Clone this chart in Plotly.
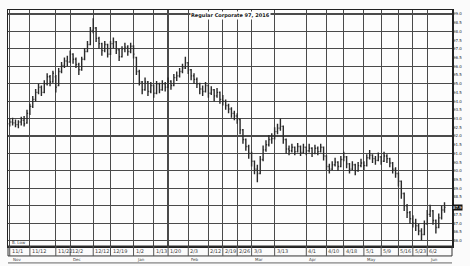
import plotly.graph_objects as go

# ---- data ----
days = list(range(152))
opens = [92.70,92.80,92.75,92.65,92.80,92.90,92.75,93.30,93.70,94.10,94.50,94.80,94.50,95.00,95.40,95.10,95.40,94.90,95.70,96.05,
         96.30,96.25,96.70,96.40,96.10,95.80,96.40,96.85,97.25,98.05,98.20,97.60,97.30,96.90,97.25,96.70,97.30,97.40,96.95,96.55,
         97.00,97.10,96.85,97.15,96.50,95.70,95.10,94.65,95.10,94.55,94.90,94.45,95.00,94.65,95.00,94.80,95.15,94.90,95.35,95.45,
         95.70,95.90,96.20,95.80,95.45,95.25,95.00,94.70,94.55,94.90,94.45,94.65,94.30,94.50,94.10,94.00,93.75,93.55,93.30,93.15,
         92.95,92.35,91.80,91.40,91.00,90.55,90.10,89.85,90.65,91.20,91.50,91.80,91.85,92.25,92.45,92.55,91.80,91.25,91.15,91.35,
         91.10,91.40,91.05,91.35,91.15,91.30,91.00,91.30,91.10,91.35,90.85,90.25,90.10,90.35,90.50,90.25,90.65,90.80,90.40,90.10,
         90.35,90.00,90.30,90.45,90.30,90.75,90.90,90.70,90.60,90.80,90.55,90.85,90.70,90.45,90.10,89.85,89.40,88.70,88.00,87.60,
         87.25,87.00,86.85,86.55,86.35,86.95,87.50,87.70,87.15,86.75,87.30,87.75]
highs = [93.00,93.05,92.95,92.90,93.10,93.15,93.50,93.85,94.30,94.70,95.00,94.90,95.20,95.60,95.50,95.75,95.50,95.90,96.25,96.50,
         96.60,96.90,96.75,96.50,96.20,96.55,97.05,97.45,98.25,98.75,98.25,97.70,97.35,97.45,97.30,97.45,97.65,97.45,97.00,97.15,
         97.35,97.20,97.35,97.20,96.55,95.80,95.15,95.35,95.15,95.10,94.95,95.15,95.05,95.20,95.10,95.35,95.20,95.55,95.70,95.90,
         96.15,96.55,96.25,95.85,95.60,95.35,95.05,94.90,95.10,94.95,94.85,94.70,94.75,94.55,94.35,94.10,93.85,93.65,93.45,93.30,
         93.00,92.40,91.85,91.50,91.10,90.60,90.35,90.85,91.45,91.75,92.05,92.15,92.50,92.70,93.00,92.60,91.85,91.45,91.55,91.40,
         91.60,91.45,91.55,91.40,91.55,91.35,91.50,91.40,91.55,91.40,90.90,90.40,90.55,90.75,90.55,90.85,91.10,90.85,90.45,90.55,
         90.40,90.50,90.70,90.55,90.95,91.20,90.95,90.85,91.05,90.85,91.10,90.95,90.75,90.50,90.20,89.90,89.45,88.75,88.10,87.70,
         87.45,87.25,86.95,86.70,87.15,87.75,88.05,87.75,87.20,87.55,88.00,88.20]
lows = [92.55,92.60,92.50,92.45,92.60,92.55,92.70,93.20,93.60,94.00,94.40,94.30,94.45,94.90,94.85,95.05,94.50,94.85,95.60,95.90,
        96.00,96.20,96.15,95.90,95.50,95.75,96.35,96.80,97.20,97.90,97.40,97.00,96.60,96.80,96.50,96.65,97.05,96.70,96.30,96.50,
        96.80,96.60,96.75,96.45,95.50,94.90,94.40,94.60,94.30,94.45,94.20,94.40,94.45,94.60,94.55,94.75,94.65,94.85,95.15,95.35,
        95.60,95.85,95.55,95.20,95.00,94.75,94.40,94.30,94.50,94.20,94.35,94.00,94.20,93.85,93.75,93.50,93.30,93.05,92.90,92.70,
        92.10,91.55,91.15,90.70,90.25,89.80,89.35,89.80,90.55,91.10,91.40,91.55,91.80,92.10,92.30,91.55,91.00,90.90,91.05,90.90,
        91.05,90.85,91.00,90.90,91.05,90.80,90.95,90.90,91.05,90.60,90.05,89.85,90.05,90.25,90.00,90.20,90.55,90.15,89.85,90.05,
        89.75,89.95,90.20,90.05,90.25,90.65,90.45,90.35,90.55,90.35,90.50,90.45,90.20,89.85,89.60,89.10,88.40,87.70,87.30,86.95,
        86.75,86.55,86.30,86.00,86.30,86.90,87.35,86.90,86.40,86.70,87.20,87.60]
closes = [92.80,92.75,92.65,92.80,92.90,92.70,93.30,93.70,94.10,94.50,94.80,94.50,95.00,95.40,95.10,95.60,94.80,95.70,96.05,96.30,
          96.25,96.70,96.40,96.10,95.80,96.40,96.85,97.25,98.05,98.20,97.60,97.30,96.90,97.25,96.70,97.30,97.40,96.95,96.55,97.00,
          97.10,96.85,97.15,96.70,95.70,95.10,94.65,95.10,94.55,94.90,94.45,95.00,94.65,95.00,94.80,95.15,94.90,95.35,95.45,95.70,
          95.90,96.20,95.80,95.45,95.25,95.00,94.70,94.55,94.90,94.45,94.65,94.30,94.50,94.10,94.00,93.75,93.55,93.30,93.15,92.95,
          92.35,91.80,91.40,91.00,90.55,90.10,89.85,90.65,91.20,91.50,91.80,91.85,92.25,92.45,92.55,91.80,91.25,91.15,91.35,91.10,
          91.40,91.05,91.35,91.15,91.30,91.00,91.30,91.10,91.35,90.85,90.25,90.10,90.35,90.50,90.25,90.65,90.80,90.40,90.10,90.35,
          90.00,90.30,90.45,90.30,90.75,90.90,90.70,90.60,90.80,90.55,90.85,90.70,90.45,90.10,89.85,89.40,88.70,88.00,87.60,87.25,
          87.00,86.85,86.55,86.35,86.95,87.50,87.70,87.15,86.75,87.30,87.75,87.90]

grid_days = [0, 7, 16, 21, 29, 35, 43, 50, 55, 62, 69, 74, 79, 84, 92, 103, 110, 116, 123, 129, 135, 140, 145]
grid_dates = ["11/1", "11/12", "11/22", "12/2", "12/12", "12/19", "1/2", "1/13", "1/20", "2/3", "2/12", "2/19",
              "2/26", "3/3", "3/13", "4/1", "4/10", "4/18", "5/1", "5/9", "5/16", "5/23", "6/2"]
month_days = [0, 21, 43, 62, 84, 103, 123, 145]
month_names = ["Nov", "Dec", "Jan", "Feb", "Mar", "Apr", "May", "Jun"]
price_ticks = [86.0, 86.5, 87.0, 87.5, 88.5, 89.0, 89.5, 90.0, 90.5, 91.0, 91.5, 92.0, 92.5, 93.0,
               93.5, 94.0, 94.5, 95.0, 95.5, 96.0, 96.5, 97.0, 97.5, 98.0, 98.5, 99.0]
title_text = "Regular Corporate 97, 2016"
low_text = "B. Low"

Y_RANGE = [85.686, 99.23]
X_RANGE = [-0.6, 153.6]
INK = "#2a2a2a"
GRID = "#4a4a4a"

fig = go.Figure()
fig.add_trace(go.Ohlc(
    x=days, open=opens, high=highs, low=lows, close=closes,
    increasing=dict(line=dict(color=INK, width=1.4)),
    decreasing=dict(line=dict(color=INK, width=1.4)),
    tickwidth=0.35, showlegend=False, hoverinfo="skip"))
fig.add_trace(go.Scatter(x=days, y=closes, yaxis="y2", mode="lines",
                         line=dict(width=0), opacity=0, showlegend=False, hoverinfo="skip"))

W, H = 470, 266
ml, mr, mt, mb = 8, 9, 9, 20
ph = H - mt - mb

fig.update_layout(
    width=W, height=H,
    margin=dict(l=ml, r=mr, t=mt, b=mb),
    paper_bgcolor="#fbfbfb", plot_bgcolor="#fdfdfd",
    font=dict(family="DejaVu Sans", color=INK, size=6),
    xaxis=dict(range=X_RANGE, tickvals=grid_days, ticktext=[""] * len(grid_days),
               showgrid=True, gridcolor=GRID, gridwidth=1.2, zeroline=False,
               showline=True, linecolor="#222", linewidth=1.5, mirror=True,
               ticks="", rangeslider=dict(visible=False), fixedrange=True),
    yaxis=dict(range=Y_RANGE, dtick=1, tick0=86, showgrid=True, gridcolor=GRID, gridwidth=1.2,
               showticklabels=False, zeroline=False, showline=True, linecolor="#222",
               linewidth=1.5, mirror=True, ticks="", fixedrange=True),
    yaxis2=dict(range=Y_RANGE, overlaying="y", side="right", tickvals=price_ticks,
                tickformat=".1f", showgrid=False, zeroline=False, ticks="",
                tickfont=dict(size=4, color=INK), ticklabelstandoff=0, fixedrange=True),
)

# date strip + month row below the plot
strip_bottom = -10 / ph
month_bottom = -17 / ph
fig.add_shape(type="rect", xref="paper", yref="paper", x0=0, x1=1, y0=strip_bottom, y1=0,
              line=dict(color="#333", width=1))
fig.add_shape(type="line", xref="paper", yref="paper", x0=0, x1=1, y0=month_bottom, y1=month_bottom,
              line=dict(color="#666", width=1))
for d, lab in zip(grid_days, grid_dates):
    fig.add_shape(type="line", xref="x", yref="paper", x0=d, x1=d, y0=strip_bottom, y1=0,
                  line=dict(color="#555", width=1))
    fig.add_annotation(x=d, y=strip_bottom / 2, xref="x", yref="paper", text=lab, showarrow=False,
                       xanchor="left", yanchor="middle", xshift=1, borderpad=0,
                       font=dict(size=5, color="#444"))
for d, m in zip(month_days, month_names):
    fig.add_annotation(x=d, y=strip_bottom, xref="x", yref="paper", text=m,
                       showarrow=False, xanchor="left", yanchor="top", xshift=2, borderpad=0,
                       font=dict(size=4, color="#444"))

fig.add_annotation(x=0, y=0, xref="paper", yref="paper", text=low_text, showarrow=False,
                   xanchor="left", yanchor="bottom", xshift=3, borderpad=0,
                   font=dict(size=4, color="#444"))
fig.add_annotation(x=0.5, y=1, xref="paper", yref="paper", text="<b>" + title_text + "</b>",
                   showarrow=False, xanchor="center", yanchor="top", yshift=-1, borderpad=0,
                   font=dict(size=5, color="#222"), bgcolor="#fdfdfd")
fig.add_annotation(x=1, y=closes[-1], xref="paper", yref="y", text="%.1f" % closes[-1],
                   showarrow=False, xanchor="left", yanchor="middle", xshift=0, borderpad=0,
                   font=dict(size=4, color="white"), bgcolor="#111")

fig.write_html("out.html", config={"displayModeBar": False, "staticPlot": True},
               post_script="document.body.style.margin='0';document.body.style.padding='0';")
